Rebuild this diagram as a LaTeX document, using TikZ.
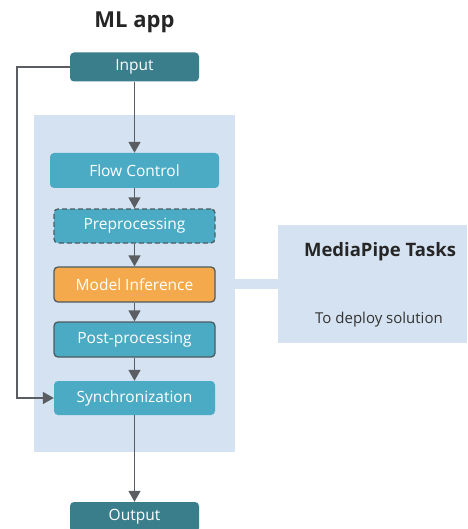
\documentclass[tikz,border=0pt]{standalone}
\usepackage{fontspec}
\setmainfont{Open Sans}
\usetikzlibrary{arrows.meta}
\definecolor{darkteal}{HTML}{3A7D8B}
\definecolor{teal2}{HTML}{4BABC4}
\definecolor{panel}{HTML}{D4E2F1}
\definecolor{orng}{HTML}{F4AA4C}
\definecolor{arrowgray}{HTML}{5A5E62}
\definecolor{bordergray}{HTML}{4D5B60}
\begin{document}
\begin{tikzpicture}[x=1pt,y=-1pt,
  box/.style={rounded corners=4pt, text=white, font=\fontsize{15.5}{17}\selectfont, inner sep=0pt},
  arr/.style={-{Triangle[length=11pt,width=12pt]}, draw=arrowgray, line width=1.6pt}]
\useasboundingbox (0,0) rectangle (467,529);
% panel
\fill[panel] (34,115) rectangle (235,452);
\fill[panel] (235,279) rectangle (278,289);
\node[fill=panel, minimum width=189pt, minimum height=118pt, inner sep=0pt] (mp) at (372.5,284) {};
\node[font=\fontsize{18.5}{20}\selectfont\bfseries, text=black!85] (mpt) at (380,252) {MediaPipe Tasks};
\node[font=\fontsize{15}{17}\selectfont, text=black!80] (mpd) at (379,320) {To deploy solution};
% title
\node[font=\fontsize{22}{25}\selectfont\bfseries, text=black!85] (title) at (134.5,22) {ML app};
% boxes
\node[box, fill=darkteal, minimum width=129pt, minimum height=29pt] (in) at (134.5,67) {Input};
\node[box, fill=teal2, minimum width=169pt, minimum height=35pt] (fc) at (134.5,170.5) {Flow Control};
\node[box, fill=teal2, draw=bordergray, dash pattern=on 5pt off 3pt, line width=1.3pt, minimum width=161pt, minimum height=34pt] (pre) at (134.5,226) {Preprocessing};
\node[box, fill=orng, draw=bordergray, line width=1.3pt, minimum width=161pt, minimum height=35pt] (mi) at (134.5,284.5) {Model Inference};
\node[box, fill=teal2, draw=bordergray, line width=1.3pt, minimum width=161pt, minimum height=35pt] (post) at (134.5,339.5) {Post-processing};
\node[box, fill=teal2, minimum width=161pt, minimum height=34pt] (sync) at (134.5,398) {Synchronization};
\node[box, fill=darkteal, minimum width=129pt, minimum height=30pt] (out) at (134.5,517) {Output};
% arrows
\draw[arr] (in) -- (fc);
\draw[arr] (fc) -- (pre);
\draw[arr] (pre) -- (mi);
\draw[arr] (mi) -- (post);
\draw[arr] (post) -- (sync);
\draw[arr] (sync) -- (out);
\draw[arr] (in.west) -- (17,67) -- (17,398) -- (sync.west);
\end{tikzpicture}
\end{document}
